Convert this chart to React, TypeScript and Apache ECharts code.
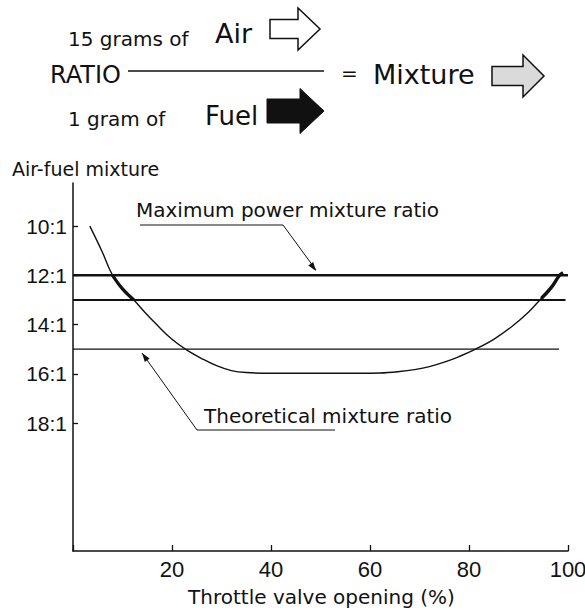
import React, { useEffect, useRef } from "react";
import * as echarts from "echarts";

// Air-fuel mixture curve (throttle opening %, ratio x:1)
const curveX = [3.4, 5.8, 8.0, 10.0, 12.3, 14.5, 16.9, 20.0, 23.1, 26.0, 29.0, 32.0, 35.0, 40.0, 46.0, 52.0, 58.0, 62.0, 66.0, 69.0, 72.0, 75.0, 78.0, 80.9, 85.0, 88.6, 92.0, 94.6, 96.6, 98.3, 99.0];
const curveY = [10.0, 11.0, 12.0, 12.55, 13.0, 13.5, 14.0, 14.6, 15.05, 15.38, 15.67, 15.87, 15.95, 15.98, 15.98, 15.98, 15.98, 15.97, 15.91, 15.83, 15.71, 15.53, 15.3, 15.04, 14.6, 14.09, 13.5, 12.94, 12.5, 12.0, 11.9];

// emphasised (thick) parts of the curve between the 12:1 and 13:1 lines
const richLeftX = [8.0, 10.0, 12.3];
const richLeftY = [12.0, 12.55, 13.0];
const richRightX = [94.6, 96.6, 98.3, 99.0];
const richRightY = [12.94, 12.5, 12.0, 11.9];

// reference ratio lines
const refRatios = [12, 13, 15];
const refEnds = [100, 99.5, 98.2];
const refWidths = [2.4, 2.0, 1.3];

const yTickValues = [10, 12, 14, 16, 18];
const xTickInterval = 20;

const INK = "#111";
const TXT = '"DejaVu Sans", sans-serif';
const NUM = '"Liberation Sans", Arial, sans-serif';

function arrowShape(x0: number, cy: number, sh: number, hb: number, hh: number, tip: number) {
  return [
    [x0, cy - sh],
    [hb, cy - sh],
    [hb, cy - hh],
    [tip, cy],
    [hb, cy + hh],
    [hb, cy + sh],
    [x0, cy + sh],
  ];
}

function headAt(from: number[], tip: number[], len = 9, half = 3) {
  const dx = tip[0] - from[0];
  const dy = tip[1] - from[1];
  const d = Math.sqrt(dx * dx + dy * dy);
  const ux = dx / d, uy = dy / d;
  const bx = tip[0] - ux * len, by = tip[1] - uy * len;
  const px = -uy * half, py = ux * half;
  return [tip, [bx + px, by + py], [bx - px, by - py]];
}

function txt(text: string, x: number, y: number, size: number, family = TXT, align = "left") {
  return {
    type: "text",
    silent: true,
    style: {
      text,
      x,
      y,
      fill: INK,
      font: `normal ${size}px ${family}`,
      align,
      verticalAlign: "middle",
    },
  };
}

function poly(points: number[][], width = 1) {
  return {
    type: "polyline",
    silent: true,
    shape: { points },
    style: { stroke: INK, lineWidth: width, fill: null },
  };
}

export default function App() {
  const ref = useRef<HTMLDivElement>(null);

  useEffect(() => {
    if (!ref.current) return;
    const chart = echarts.init(ref.current, null, { renderer: "svg" });

    const lineSeries: any[] = refRatios.map((r, i) => ({
      type: "line",
      data: [
        [0, r],
        [refEnds[i], r],
      ],
      showSymbol: false,
      lineStyle: { color: INK, width: refWidths[i] },
      silent: true,
    }));

    const maxLeader = [[140, 225], [283, 225], [316, 270]];
    const theoLeader = [[335, 430], [197, 430], [142, 353]];

    const option: any = {
      animation: false,
      backgroundColor: "#fff",
      grid: { left: 73, top: 183, width: 495, height: 368, outerBoundsMode: "none" },
      xAxis: {
        type: "value",
        min: 0,
        max: 100,
        interval: xTickInterval,
        axisLine: { lineStyle: { color: INK, width: 1.5 } },
        axisTick: { inside: true, length: 6, lineStyle: { color: INK, width: 1.3 } },
        axisLabel: {
          color: INK,
          fontFamily: NUM,
          fontSize: 22,
          margin: 7,
          formatter: (v: number) => (v === 0 ? "" : String(v)),
        },
        splitLine: { show: false },
      },
      yAxis: {
        type: "value",
        inverse: true,
        min: 8.25,
        max: 23.2,
        axisLine: { show: true, lineStyle: { color: INK, width: 1.5 } },
        axisTick: {
          show: true,
          inside: true,
          length: 5,
          customValues: yTickValues,
          lineStyle: { color: INK, width: 1.3 },
        },
        axisLabel: {
          color: INK,
          fontFamily: NUM,
          fontSize: 21,
          margin: 6,
          customValues: yTickValues,
          formatter: (v: number) => `${v}:1`,
        },
        splitLine: { show: false },
      },
      series: [
        ...lineSeries,
        {
          type: "line",
          data: curveX.map((x, i) => [x, curveY[i]]),
          smooth: 0.4,
          showSymbol: false,
          lineStyle: { color: INK, width: 1.4 },
          silent: true,
        },
        {
          type: "line",
          data: richLeftX.map((x, i) => [x, richLeftY[i]]),
          smooth: 0.4,
          showSymbol: false,
          lineStyle: { color: INK, width: 3.2 },
          silent: true,
        },
        {
          type: "line",
          data: richRightX.map((x, i) => [x, richRightY[i]]),
          smooth: 0.4,
          showSymbol: false,
          lineStyle: { color: INK, width: 3.4 },
          silent: true,
        },
      ],
      graphic: [
        // top ratio diagram
        txt("15 grams of", 68, 38.5, 20),
        txt("Air", 215, 33, 27),
        {
          type: "polygon",
          silent: true,
          shape: { points: arrowShape(270, 29, 9.5, 298, 21, 320) },
          style: { fill: "#fff", stroke: INK, lineWidth: 1.5 },
        },
        txt("RATIO", 50, 75, 24),
        poly([[128, 71], [324, 71]], 1.6),
        txt("=", 349.5, 73, 20, TXT, "center"),
        txt("Mixture", 373, 74, 27),
        {
          type: "polygon",
          silent: true,
          shape: { points: arrowShape(492, 76, 9.5, 523, 21, 544) },
          style: { fill: "#dadada", stroke: INK, lineWidth: 1.5 },
        },
        txt("1 gram of", 68, 119, 20),
        txt("Fuel", 205, 116, 26),
        {
          type: "polygon",
          silent: true,
          shape: { points: arrowShape(267, 111, 12, 300, 22.5, 324) },
          style: { fill: INK, stroke: INK, lineWidth: 1 },
        },
        // axis titles
        txt("Air-fuel mixture", 12, 169, 19),
        txt("Throttle valve opening (%)", 321.5, 597, 20, TXT, "center"),
        // annotations
        txt("Maximum power mixture ratio", 136, 210, 20),
        poly(maxLeader, 1),
        {
          type: "polygon",
          silent: true,
          shape: { points: headAt(maxLeader[1], [maxLeader[2][0], maxLeader[2][1] + 1]) },
          style: { fill: INK },
        },
        txt("Theoretical mixture ratio", 204, 415.5, 20),
        poly(theoLeader, 1),
        {
          type: "polygon",
          silent: true,
          shape: { points: headAt(theoLeader[1], theoLeader[2]) },
          style: { fill: INK },
        },
      ],
    };

    chart.setOption(option);
    return () => chart.dispose();
  }, []);

  return (
    <div
      ref={ref}
      style={{ position: "absolute", left: 0, top: 0, width: 585, height: 610, background: "#fff" }}
    />
  );
}
